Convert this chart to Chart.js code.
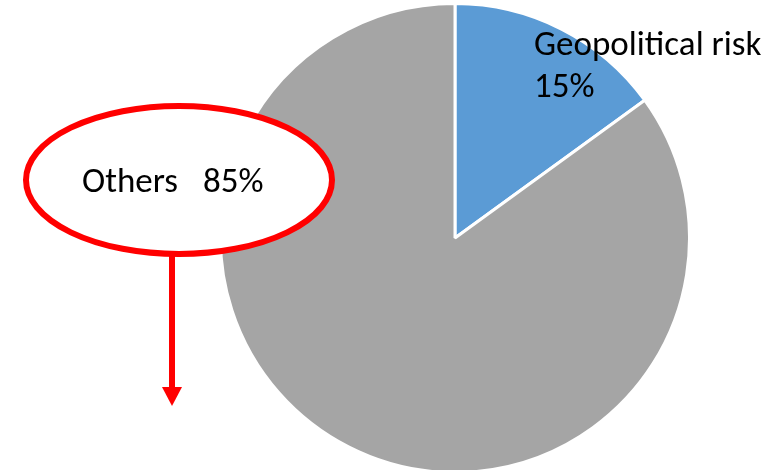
<!DOCTYPE html>
<html>
<head>
<meta charset="utf-8">
<script src="https://cdn.jsdelivr.net/npm/chart.js@4"></script>
<style>
  html, body { margin: 0; padding: 0; background: #fff; }
  #wrap { width: 772px; height: 470px; }
</style>
</head>
<body>
<div id="wrap"><canvas id="riskPie" width="772" height="470"></canvas></div>
<script>
const categories = ['Geopolitical risk', 'Others'];
const shares = [15, 85];
const sliceColors = ['#5B9BD5', '#A5A5A5'];

const labelFont = '35px Carlito, Calibri, Lato, sans-serif';

// callout: white ellipse over the pie with a red outline and a down arrow
const callout = {
  id: 'callout',
  afterDraw(chart) {
    const ctx = chart.ctx;
    ctx.save();

    ctx.beginPath();
    ctx.ellipse(179, 180, 153, 74, 0, 0, Math.PI * 2);
    ctx.fillStyle = '#fff';
    ctx.fill();
    ctx.lineWidth = 6;
    ctx.strokeStyle = '#FF0000';
    ctx.stroke();

    ctx.beginPath();
    ctx.moveTo(172, 256);
    ctx.lineTo(172, 390);
    ctx.stroke();
    ctx.beginPath();
    ctx.moveTo(162, 387);
    ctx.lineTo(182, 387);
    ctx.lineTo(172, 406);
    ctx.closePath();
    ctx.fillStyle = '#FF0000';
    ctx.fill();

    ctx.fillStyle = '#000';
    ctx.font = labelFont;
    ctx.textBaseline = 'alphabetic';
    ctx.textAlign = 'left';
    ctx.fillText(categories[0], 534, 55);
    ctx.fillText(shares[0] + '%', 534, 97);
    ctx.fillText(categories[1], 82, 192);
    ctx.fillText(shares[1] + '%', 203, 192);

    ctx.restore();
  }
};

new Chart(document.getElementById('riskPie').getContext('2d'), {
  type: 'pie',
  data: {
    labels: categories,
    datasets: [{
      data: shares,
      backgroundColor: sliceColors,
      borderColor: '#fff',
      borderWidth: 3,
      hoverOffset: 0
    }]
  },
  options: {
    responsive: false,
    animation: false,
    radius: 234.5,
    layout: { padding: { left: 222, right: 84, top: 6, bottom: 0 } },
    plugins: {
      legend: { display: false },
      tooltip: { enabled: false }
    }
  },
  plugins: [callout]
});
</script>
</body>
</html>
